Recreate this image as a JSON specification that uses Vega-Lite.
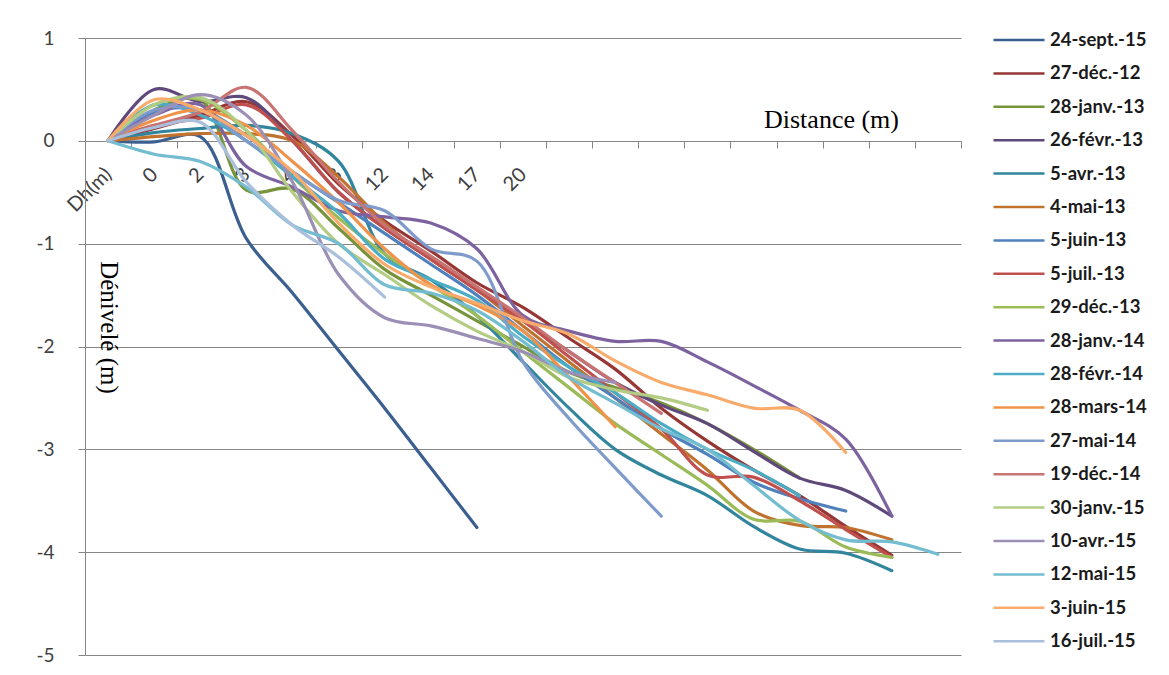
{
"$schema": "https://vega.github.io/schema/vega-lite/v6.json",
"width": 876, "height": 617,
"autosize": {"type": "none"},
"padding": {"left": 85, "top": 38, "right": 208, "bottom": 20},
"background": "white",
"config": {"view": {"stroke": null}, "font": "Lato"},
"data": {"values": [
{"d":"24-sept.-15","i":0,"v":0},{"d":"24-sept.-15","i":1,"v":-0.01},{"d":"24-sept.-15","i":2,"v":0.04},{"d":"24-sept.-15","i":3,"v":-0.95},{"d":"24-sept.-15","i":4,"v":-1.48},{"d":"24-sept.-15","i":5,"v":-2.04},{"d":"24-sept.-15","i":6,"v":-2.6},{"d":"24-sept.-15","i":7,"v":-3.18},{"d":"24-sept.-15","i":8,"v":-3.76},
{"d":"27-déc.-12","i":0,"v":0},{"d":"27-déc.-12","i":1,"v":0.12},{"d":"27-déc.-12","i":2,"v":0.25},{"d":"27-déc.-12","i":3,"v":0.38},{"d":"27-déc.-12","i":4,"v":0.05},{"d":"27-déc.-12","i":5,"v":-0.42},{"d":"27-déc.-12","i":6,"v":-0.78},{"d":"27-déc.-12","i":7,"v":-1.07},{"d":"27-déc.-12","i":8,"v":-1.38},{"d":"27-déc.-12","i":9,"v":-1.62},{"d":"27-déc.-12","i":10,"v":-1.92},{"d":"27-déc.-12","i":11,"v":-2.22},{"d":"27-déc.-12","i":12,"v":-2.6},{"d":"27-déc.-12","i":13,"v":-2.92},{"d":"27-déc.-12","i":14,"v":-3.2},{"d":"27-déc.-12","i":15,"v":-3.45},{"d":"27-déc.-12","i":16,"v":-3.75},{"d":"27-déc.-12","i":17,"v":-4.03},
{"d":"28-janv.-13","i":0,"v":0},{"d":"28-janv.-13","i":1,"v":0.3},{"d":"28-janv.-13","i":2,"v":0.4},{"d":"28-janv.-13","i":3,"v":-0.48},{"d":"28-janv.-13","i":4,"v":-0.47},{"d":"28-janv.-13","i":5,"v":-0.85},{"d":"28-janv.-13","i":6,"v":-1.25},{"d":"28-janv.-13","i":7,"v":-1.5},{"d":"28-janv.-13","i":8,"v":-1.75},{"d":"28-janv.-13","i":9,"v":-2.0},{"d":"28-janv.-13","i":10,"v":-2.25},{"d":"28-janv.-13","i":11,"v":-2.4},{"d":"28-janv.-13","i":12,"v":-2.55},{"d":"28-janv.-13","i":13,"v":-2.75},{"d":"28-janv.-13","i":14,"v":-3.0},{"d":"28-janv.-13","i":15,"v":-3.28},
{"d":"26-févr.-13","i":0,"v":0},{"d":"26-févr.-13","i":1,"v":0.5},{"d":"26-févr.-13","i":2,"v":0.38},{"d":"26-févr.-13","i":3,"v":0.42},{"d":"26-févr.-13","i":4,"v":0.0},{"d":"26-févr.-13","i":5,"v":-0.5},{"d":"26-févr.-13","i":6,"v":-0.85},{"d":"26-févr.-13","i":7,"v":-1.15},{"d":"26-févr.-13","i":8,"v":-1.45},{"d":"26-févr.-13","i":9,"v":-1.75},{"d":"26-févr.-13","i":10,"v":-2.05},{"d":"26-févr.-13","i":11,"v":-2.35},{"d":"26-févr.-13","i":12,"v":-2.57},{"d":"26-févr.-13","i":13,"v":-2.75},{"d":"26-févr.-13","i":14,"v":-3.02},{"d":"26-févr.-13","i":15,"v":-3.28},{"d":"26-févr.-13","i":16,"v":-3.4},{"d":"26-févr.-13","i":17,"v":-3.65},
{"d":"5-avr.-13","i":0,"v":0},{"d":"5-avr.-13","i":1,"v":0.08},{"d":"5-avr.-13","i":2,"v":0.12},{"d":"5-avr.-13","i":3,"v":0.15},{"d":"5-avr.-13","i":4,"v":0.07},{"d":"5-avr.-13","i":5,"v":-0.2},{"d":"5-avr.-13","i":6,"v":-1.1},{"d":"5-avr.-13","i":7,"v":-1.35},{"d":"5-avr.-13","i":8,"v":-1.7},{"d":"5-avr.-13","i":9,"v":-2.15},{"d":"5-avr.-13","i":10,"v":-2.6},{"d":"5-avr.-13","i":11,"v":-3.0},{"d":"5-avr.-13","i":12,"v":-3.25},{"d":"5-avr.-13","i":13,"v":-3.45},{"d":"5-avr.-13","i":14,"v":-3.75},{"d":"5-avr.-13","i":15,"v":-3.97},{"d":"5-avr.-13","i":16,"v":-4.01},{"d":"5-avr.-13","i":17,"v":-4.18},
{"d":"4-mai-13","i":0,"v":0},{"d":"4-mai-13","i":1,"v":0.04},{"d":"4-mai-13","i":2,"v":0.07},{"d":"4-mai-13","i":3,"v":0.07},{"d":"4-mai-13","i":4,"v":0.0},{"d":"4-mai-13","i":5,"v":-0.35},{"d":"4-mai-13","i":6,"v":-0.8},{"d":"4-mai-13","i":7,"v":-1.15},{"d":"4-mai-13","i":8,"v":-1.45},{"d":"4-mai-13","i":9,"v":-1.8},{"d":"4-mai-13","i":10,"v":-2.15},{"d":"4-mai-13","i":11,"v":-2.5},{"d":"4-mai-13","i":12,"v":-2.85},{"d":"4-mai-13","i":13,"v":-3.2},{"d":"4-mai-13","i":14,"v":-3.6},{"d":"4-mai-13","i":15,"v":-3.74},{"d":"4-mai-13","i":16,"v":-3.76},{"d":"4-mai-13","i":17,"v":-3.88},
{"d":"5-juin-13","i":0,"v":0},{"d":"5-juin-13","i":1,"v":0.28},{"d":"5-juin-13","i":2,"v":0.3},{"d":"5-juin-13","i":3,"v":0.05},{"d":"5-juin-13","i":4,"v":-0.3},{"d":"5-juin-13","i":5,"v":-0.6},{"d":"5-juin-13","i":6,"v":-0.9},{"d":"5-juin-13","i":7,"v":-1.2},{"d":"5-juin-13","i":8,"v":-1.5},{"d":"5-juin-13","i":9,"v":-1.85},{"d":"5-juin-13","i":10,"v":-2.2},{"d":"5-juin-13","i":11,"v":-2.5},{"d":"5-juin-13","i":12,"v":-2.8},{"d":"5-juin-13","i":13,"v":-3.05},{"d":"5-juin-13","i":14,"v":-3.32},{"d":"5-juin-13","i":15,"v":-3.48},{"d":"5-juin-13","i":16,"v":-3.6},
{"d":"5-juil.-13","i":0,"v":0},{"d":"5-juil.-13","i":1,"v":0.15},{"d":"5-juil.-13","i":2,"v":0.22},{"d":"5-juil.-13","i":3,"v":0.35},{"d":"5-juil.-13","i":4,"v":0.0},{"d":"5-juil.-13","i":5,"v":-0.5},{"d":"5-juil.-13","i":6,"v":-0.85},{"d":"5-juil.-13","i":7,"v":-1.15},{"d":"5-juil.-13","i":8,"v":-1.45},{"d":"5-juil.-13","i":9,"v":-1.75},{"d":"5-juil.-13","i":10,"v":-2.1},{"d":"5-juil.-13","i":11,"v":-2.45},{"d":"5-juil.-13","i":12,"v":-2.8},{"d":"5-juil.-13","i":13,"v":-3.25},{"d":"5-juil.-13","i":14,"v":-3.27},{"d":"5-juil.-13","i":15,"v":-3.5},{"d":"5-juil.-13","i":16,"v":-3.78},{"d":"5-juil.-13","i":17,"v":-4.05},
{"d":"29-déc.-13","i":0,"v":0},{"d":"29-déc.-13","i":1,"v":0.35},{"d":"29-déc.-13","i":2,"v":0.4},{"d":"29-déc.-13","i":3,"v":0.1},{"d":"29-déc.-13","i":4,"v":-0.35},{"d":"29-déc.-13","i":5,"v":-0.75},{"d":"29-déc.-13","i":6,"v":-1.1},{"d":"29-déc.-13","i":7,"v":-1.4},{"d":"29-déc.-13","i":8,"v":-1.7},{"d":"29-déc.-13","i":9,"v":-2.05},{"d":"29-déc.-13","i":10,"v":-2.4},{"d":"29-déc.-13","i":11,"v":-2.75},{"d":"29-déc.-13","i":12,"v":-3.05},{"d":"29-déc.-13","i":13,"v":-3.35},{"d":"29-déc.-13","i":14,"v":-3.68},{"d":"29-déc.-13","i":15,"v":-3.7},{"d":"29-déc.-13","i":16,"v":-3.95},{"d":"29-déc.-13","i":17,"v":-4.05},
{"d":"28-janv.-14","i":0,"v":0},{"d":"28-janv.-14","i":1,"v":0.25},{"d":"28-janv.-14","i":2,"v":0.35},{"d":"28-janv.-14","i":3,"v":-0.25},{"d":"28-janv.-14","i":4,"v":-0.45},{"d":"28-janv.-14","i":5,"v":-0.68},{"d":"28-janv.-14","i":6,"v":-0.74},{"d":"28-janv.-14","i":7,"v":-0.8},{"d":"28-janv.-14","i":8,"v":-1.05},{"d":"28-janv.-14","i":9,"v":-1.7},{"d":"28-janv.-14","i":10,"v":-1.85},{"d":"28-janv.-14","i":11,"v":-1.95},{"d":"28-janv.-14","i":12,"v":-1.95},{"d":"28-janv.-14","i":13,"v":-2.15},{"d":"28-janv.-14","i":14,"v":-2.38},{"d":"28-janv.-14","i":15,"v":-2.62},{"d":"28-janv.-14","i":16,"v":-2.9},{"d":"28-janv.-14","i":17,"v":-3.65},
{"d":"28-févr.-14","i":0,"v":0},{"d":"28-févr.-14","i":1,"v":0.35},{"d":"28-févr.-14","i":2,"v":0.25},{"d":"28-févr.-14","i":3,"v":0.0},{"d":"28-févr.-14","i":4,"v":-0.35},{"d":"28-févr.-14","i":5,"v":-0.7},{"d":"28-févr.-14","i":6,"v":-1.15},{"d":"28-févr.-14","i":7,"v":-1.35},{"d":"28-févr.-14","i":8,"v":-1.55},{"d":"28-févr.-14","i":9,"v":-1.9},{"d":"28-févr.-14","i":10,"v":-2.2},{"d":"28-févr.-14","i":11,"v":-2.45},{"d":"28-févr.-14","i":12,"v":-2.75},{"d":"28-févr.-14","i":13,"v":-3.0},{"d":"28-févr.-14","i":14,"v":-3.2},{"d":"28-févr.-14","i":15,"v":-3.45},
{"d":"28-mars-14","i":0,"v":0},{"d":"28-mars-14","i":1,"v":0.2},{"d":"28-mars-14","i":2,"v":0.3},{"d":"28-mars-14","i":3,"v":0.15},{"d":"28-mars-14","i":4,"v":-0.2},{"d":"28-mars-14","i":5,"v":-0.6},{"d":"28-mars-14","i":6,"v":-1.05},{"d":"28-mars-14","i":7,"v":-1.4},{"d":"28-mars-14","i":8,"v":-1.6},{"d":"28-mars-14","i":9,"v":-1.85},{"d":"28-mars-14","i":10,"v":-2.3},{"d":"28-mars-14","i":11,"v":-2.78},
{"d":"27-mai-14","i":0,"v":0},{"d":"27-mai-14","i":1,"v":0.3},{"d":"27-mai-14","i":2,"v":0.3},{"d":"27-mai-14","i":3,"v":0.0},{"d":"27-mai-14","i":4,"v":-0.3},{"d":"27-mai-14","i":5,"v":-0.58},{"d":"27-mai-14","i":6,"v":-0.68},{"d":"27-mai-14","i":7,"v":-1.05},{"d":"27-mai-14","i":8,"v":-1.17},{"d":"27-mai-14","i":9,"v":-2.15},{"d":"27-mai-14","i":10,"v":-2.7},{"d":"27-mai-14","i":11,"v":-3.18},{"d":"27-mai-14","i":12,"v":-3.65},
{"d":"19-déc.-14","i":0,"v":0},{"d":"19-déc.-14","i":1,"v":0.15},{"d":"19-déc.-14","i":2,"v":0.28},{"d":"19-déc.-14","i":3,"v":0.52},{"d":"19-déc.-14","i":4,"v":0.1},{"d":"19-déc.-14","i":5,"v":-0.4},{"d":"19-déc.-14","i":6,"v":-0.82},{"d":"19-déc.-14","i":7,"v":-1.12},{"d":"19-déc.-14","i":8,"v":-1.42},{"d":"19-déc.-14","i":9,"v":-1.72},{"d":"19-déc.-14","i":10,"v":-2.05},{"d":"19-déc.-14","i":11,"v":-2.35},{"d":"19-déc.-14","i":12,"v":-2.65},
{"d":"30-janv.-15","i":0,"v":0},{"d":"30-janv.-15","i":1,"v":0.35},{"d":"30-janv.-15","i":2,"v":0.42},{"d":"30-janv.-15","i":3,"v":0.1},{"d":"30-janv.-15","i":4,"v":-0.5},{"d":"30-janv.-15","i":5,"v":-1.0},{"d":"30-janv.-15","i":6,"v":-1.3},{"d":"30-janv.-15","i":7,"v":-1.6},{"d":"30-janv.-15","i":8,"v":-1.85},{"d":"30-janv.-15","i":9,"v":-2.05},{"d":"30-janv.-15","i":10,"v":-2.3},{"d":"30-janv.-15","i":11,"v":-2.42},{"d":"30-janv.-15","i":12,"v":-2.5},{"d":"30-janv.-15","i":13,"v":-2.62},
{"d":"10-avr.-15","i":0,"v":0},{"d":"10-avr.-15","i":1,"v":0.25},{"d":"10-avr.-15","i":2,"v":0.45},{"d":"10-avr.-15","i":3,"v":0.25},{"d":"10-avr.-15","i":4,"v":-0.4},{"d":"10-avr.-15","i":5,"v":-1.3},{"d":"10-avr.-15","i":6,"v":-1.72},{"d":"10-avr.-15","i":7,"v":-1.8},{"d":"10-avr.-15","i":8,"v":-1.92},{"d":"10-avr.-15","i":9,"v":-2.05},{"d":"10-avr.-15","i":10,"v":-2.25},{"d":"10-avr.-15","i":11,"v":-2.35},
{"d":"12-mai-15","i":0,"v":0},{"d":"12-mai-15","i":1,"v":-0.13},{"d":"12-mai-15","i":2,"v":-0.2},{"d":"12-mai-15","i":3,"v":-0.45},{"d":"12-mai-15","i":4,"v":-0.82},{"d":"12-mai-15","i":5,"v":-1.0},{"d":"12-mai-15","i":6,"v":-1.4},{"d":"12-mai-15","i":7,"v":-1.48},{"d":"12-mai-15","i":8,"v":-1.65},{"d":"12-mai-15","i":9,"v":-1.95},{"d":"12-mai-15","i":10,"v":-2.3},{"d":"12-mai-15","i":11,"v":-2.55},{"d":"12-mai-15","i":12,"v":-2.8},{"d":"12-mai-15","i":13,"v":-3.0},{"d":"12-mai-15","i":14,"v":-3.35},{"d":"12-mai-15","i":15,"v":-3.69},{"d":"12-mai-15","i":16,"v":-3.88},{"d":"12-mai-15","i":17,"v":-3.9},{"d":"12-mai-15","i":18,"v":-4.02},
{"d":"3-juin-15","i":0,"v":0},{"d":"3-juin-15","i":1,"v":0.4},{"d":"3-juin-15","i":2,"v":0.3},{"d":"3-juin-15","i":3,"v":0.05},{"d":"3-juin-15","i":4,"v":-0.3},{"d":"3-juin-15","i":5,"v":-0.8},{"d":"3-juin-15","i":6,"v":-1.2},{"d":"3-juin-15","i":7,"v":-1.42},{"d":"3-juin-15","i":8,"v":-1.58},{"d":"3-juin-15","i":9,"v":-1.75},{"d":"3-juin-15","i":10,"v":-1.88},{"d":"3-juin-15","i":11,"v":-2.14},{"d":"3-juin-15","i":12,"v":-2.35},{"d":"3-juin-15","i":13,"v":-2.47},{"d":"3-juin-15","i":14,"v":-2.6},{"d":"3-juin-15","i":15,"v":-2.62},{"d":"3-juin-15","i":16,"v":-3.03},
{"d":"16-juil.-15","i":0,"v":0},{"d":"16-juil.-15","i":1,"v":0.13},{"d":"16-juil.-15","i":2,"v":0.18},{"d":"16-juil.-15","i":3,"v":-0.4},{"d":"16-juil.-15","i":4,"v":-0.82},{"d":"16-juil.-15","i":5,"v":-1.13},{"d":"16-juil.-15","i":6,"v":-1.52}
]},
"mark": {"type": "line", "interpolate": "catmull-rom", "strokeWidth": 3.2, "strokeCap": "round", "strokeJoin": "round"},
"encoding": {
  "x": {"field": "i", "type": "ordinal", "bandPosition": 0.5,
    "scale": {"type": "band", "paddingInner": 0, "paddingOuter": 0},
    "axis": {"orient": "bottom", "offset": -514, "tickBand": "extent",
      "labelExpr": "['Dh(m)','0','2','3','4','8','12','14','17','20'][datum.value] || ''",
      "labelAngle": -45, "labelAlign": "right", "labelBaseline": "middle", "labelFont": "Lato", "labelFontSize": 20, "labelColor": "#404040",
      "labelPadding": 23, "labelOverlap": false, "labelBound": false, "labelFlush": false,
      "tickSize": 7, "tickColor": "#868686", "domainColor": "#868686", "grid": false,
      "title": "Distance (m)", "titleFont": "Liberation Serif", "titleFontSize": 26, "titleFontWeight": "normal", "titleColor": "#000000",
      "titleX": 746, "titleY": -14, "titleAlign": "center", "titleBaseline": "alphabetic"}},
  "y": {"field": "v", "type": "quantitative",
    "scale": {"domain": [-5, 1], "nice": false, "zero": false},
    "axis": {"values": [-5, -4, -3, -2, -1, 0, 1], "labelExpr": "'' + datum.value",
      "grid": true, "gridColor": "#868686", "gridWidth": 1, "domainColor": "#868686", "tickColor": "#868686", "tickSize": 7,
      "labelPadding": 24, "labelFont": "Lato", "labelFontSize": 19, "labelColor": "#404040",
      "title": "Dénivelé (m)", "titleFont": "Liberation Serif", "titleFontSize": 25, "titleFontWeight": "normal", "titleColor": "#000000",
      "titleAngle": 90, "titleX": 23, "titleY": 289, "titleAlign": "center", "titleBaseline": "middle"}},
  "color": {"field": "d", "type": "nominal",
    "sort": ["24-sept.-15","27-déc.-12","28-janv.-13","26-févr.-13","5-avr.-13","4-mai-13","5-juin-13","5-juil.-13","29-déc.-13","28-janv.-14","28-févr.-14","28-mars-14","27-mai-14","19-déc.-14","30-janv.-15","10-avr.-15","12-mai-15","3-juin-15","16-juil.-15"],
    "scale": {"domain": ["24-sept.-15","27-déc.-12","28-janv.-13","26-févr.-13","5-avr.-13","4-mai-13","5-juin-13","5-juil.-13","29-déc.-13","28-janv.-14","28-févr.-14","28-mars-14","27-mai-14","19-déc.-14","30-janv.-15","10-avr.-15","12-mai-15","3-juin-15","16-juil.-15"],
      "range": ["#3B5F8E","#963735","#77933C","#5F497A","#31859C","#C0732F","#4F81BD","#C0504D","#9BBB59","#7D62A0","#4BACC6","#F0934A","#7F9BCB","#C87472","#B3CC83","#9C8FB6","#74BDD0","#F9AB6B","#A9BFDB"]},
    "legend": {"orient": "none", "legendX": 907, "legendY": -8, "title": null, "padding": 0,
      "symbolType": "stroke", "symbolSize": 2601, "symbolStrokeWidth": 2.5, "clipHeight": 20,
      "labelFont": "Lato", "labelFontSize": 18.5, "labelFontWeight": "bold", "labelColor": "#1a1a1a", "labelOffset": 4, "rowPadding": 13.4}}
}
}
